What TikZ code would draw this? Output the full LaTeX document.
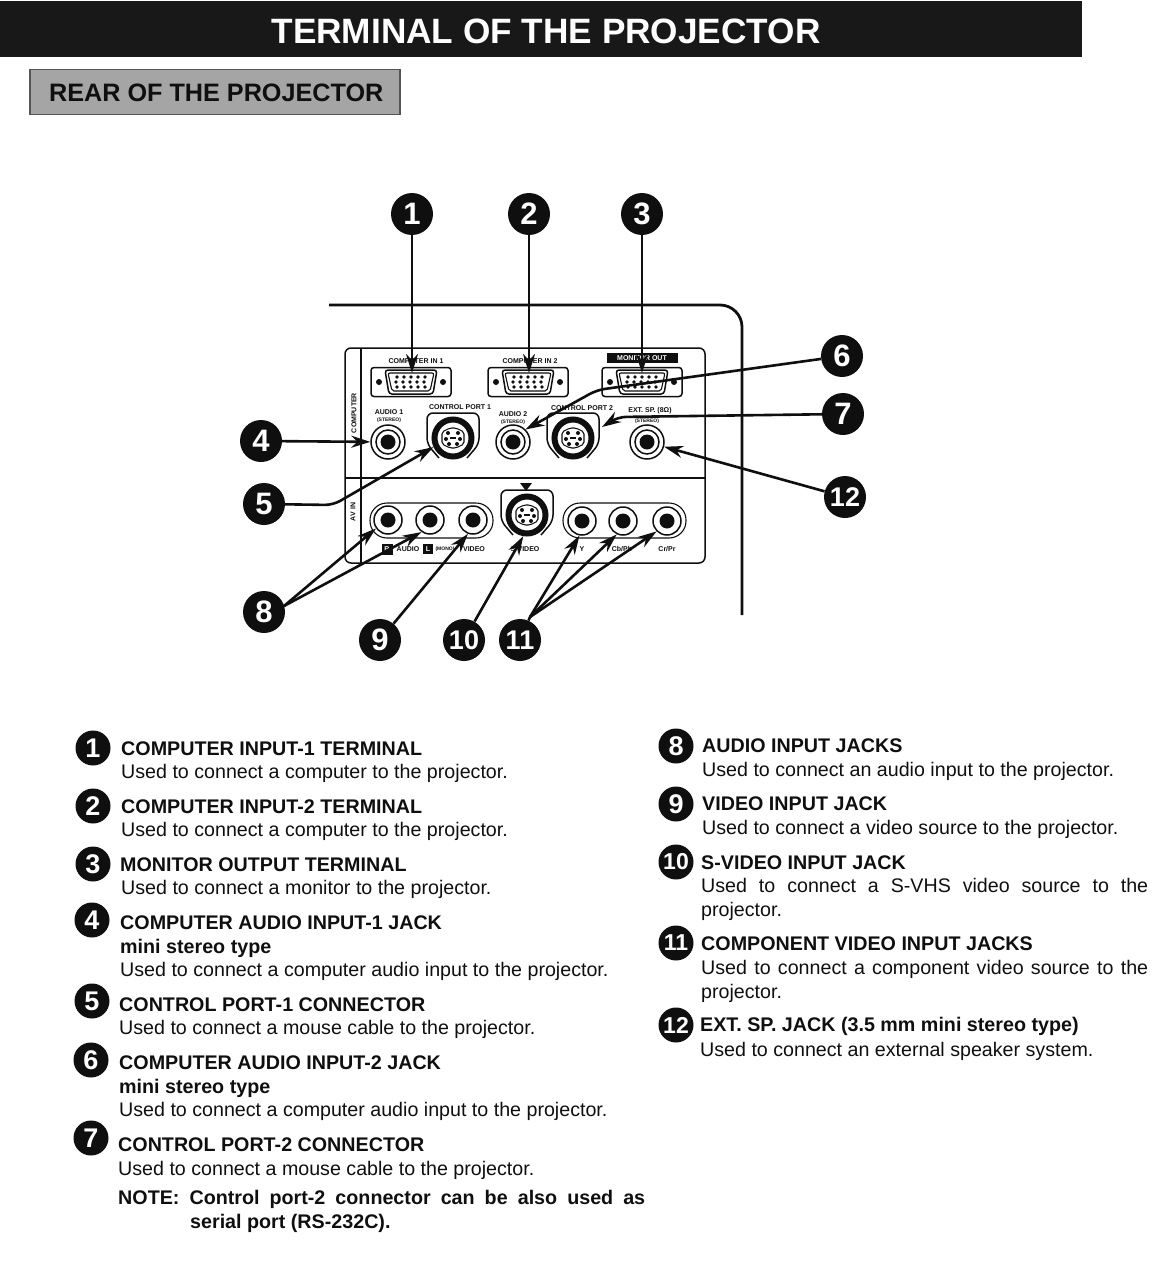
\documentclass[tikz,border=0pt]{standalone}
\usepackage{xcolor}
\usepackage{fontspec}
\setmainfont{Liberation Sans}
\usetikzlibrary{positioning,arrows.meta,calc}
\definecolor{barblack}{RGB}{24,24,24}
\definecolor{sectiongray}{RGB}{165,165,165}
\definecolor{sectionedge}{RGB}{85,85,85}
\definecolor{inkblack}{RGB}{15,15,15}
\tikzset{
    titlebar/.style={draw=none, fill=barblack, minimum width=1082pt, minimum height=56pt, inner sep=0pt},
    sectionbox/.style={draw=sectionedge, fill=sectiongray, line width=1.2pt, minimum width=370pt, minimum height=45pt, inner sep=0pt},
    badge/.style={circle, fill=inkblack, text=white, minimum size=42pt, inner sep=0pt, font=\fontsize{31}{31}\bfseries\selectfont},
    wideb/.style={badge, font=\fontsize{27}{27}\bfseries\selectfont},
    tag/.style={circle, fill=inkblack, text=white, minimum size=35pt, inner sep=0pt, font=\fontsize{27}{27}\bfseries\selectfont},
    widet/.style={tag, font=\fontsize{23}{23}\bfseries\selectfont},
    head/.style={anchor=base west, inner sep=0pt, text=inkblack, font=\fontsize{19.7}{24}\bfseries\selectfont},
    body/.style={anchor=base west, inner sep=0pt, text=inkblack, font=\fontsize{19.65}{24}\selectfont},
    tiny/.style={inner sep=0pt, text=inkblack, font=\fontsize{7}{7}\bfseries\selectfont},
    micro/.style={inner sep=0pt, text=inkblack, font=\fontsize{5}{5}\bfseries\selectfont},
    arrow/.style={-{Stealth[length=19pt,width=12pt]}, line width=2.6pt, draw=inkblack},
    stem/.style={line width=2.6pt, draw=inkblack},
    wall/.style={draw=inkblack, line width=2.8pt},
    panelline/.style={draw=inkblack, line width=1.5pt},
    thinline/.style={draw=inkblack, line width=1.1pt},
    jackring/.style={circle, draw=inkblack, fill=white, line width=1.5pt, inner sep=0pt},
    jackhole/.style={circle, fill=inkblack, minimum size=15pt, inner sep=0pt},
    flange/.style={draw=inkblack, fill=white, line width=1.5pt, rounded corners=3pt, minimum width=80pt, minimum height=29pt, inner sep=0pt},
    portring/.style={circle, draw=inkblack, fill=white, line width=6pt, minimum size=37pt, inner sep=0pt}
}
\newcommand{\jack}[4]{% name, x, y, diameter
    \node[jackring, minimum size=#4pt] (#1) at (#2,#3) {};
    \node[jackring, minimum size=#4pt-10pt] at (#2,#3) {};
    \node[jackhole] at (#2,#3) {};
}
\newcommand{\avjack}[3]{% name, x, y
    \node[jackring, minimum size=28pt] (#1) at (#2,#3) {};
    \node[jackhole] at (#2,#3) {};
}
\newcommand{\dsub}[3]{% name, x, y
    \node[flange] (#1) at (#2,#3) {};
    \begin{scope}[shift={(#2,#3)}]
    \fill[inkblack] (-32,0) circle (3pt) (32,0) circle (3pt);
    \draw[panelline, rounded corners=3pt] (-26,-12) -- (26,-12) -- (22,12) -- (-22,12) -- cycle;
    \draw[thinline, rounded corners=2pt] (-23,-9) -- (23,-9) -- (19,9) -- (-19,9) -- cycle;
    \foreach \px in {-14,-7,0,7,14} {
        \fill[inkblack] (\px,-5) circle (1.8pt) (\px-1,0) circle (1.8pt) (\px,5) circle (1.8pt);
    }
    \end{scope}
}
\newcommand{\miniport}[3]{% name, x, y
    \begin{scope}[shift={(#2,#3)}]
    \draw[panelline, rounded corners=6pt] (-14,20) -- (-26,6) -- (-26,-25) -- (26,-25) -- (26,6) -- (14,20);
    \end{scope}
    \node[portring] (#1) at (#2,#3) {};
    \begin{scope}[shift={(#2,#3)}]
    \draw[thinline, rounded corners=2pt] (-11,-6) -- (-3,-10) -- (3,-10) -- (11,-6) -- (11,6) -- (3,10) -- (-3,10) -- (-11,6) -- cycle;
    \fill[inkblack] (-5,-5) circle (2pt) (5,-5) circle (2pt) (-7,1) circle (2pt) (7,1) circle (2pt) (-4,6) circle (2pt) (4,6) circle (2pt);
    \fill[inkblack] (-3,-1) rectangle (3,1);
    \end{scope}
}
\begin{document}
\begin{tikzpicture}[x=1pt,y=-1pt]
\useasboundingbox (0,0) rectangle (1169,1276);
\node[titlebar] (title) at (541,29) {};
\node[text=white, inner sep=0pt, font=\fontsize{35.2}{35.2}\bfseries\selectfont] (titletext) at (546,31) {TERMINAL OF THE PROJECTOR};
\node[sectionbox] (section) at (215,92) {};
\node[anchor=base west, inner sep=0pt, text=inkblack, font=\fontsize{25.2}{27}\bfseries\selectfont] (sectiontext) at (49,102) {REAR OF THE PROJECTOR};
% projector outline and panel
\draw[wall, rounded corners=22pt] (329,305) -- (742,305) -- (742,615);
\draw[panelline, rounded corners=6pt] (345,348) -- (705,348) -- (705,563) -- (345,563) -- cycle;
\draw[panelline] (361,348) -- (361,563);
\draw[panelline] (345,478) -- (705,478);
\node[tiny, rotate=90] (compside) at (354,413) {COMPUTER};
\node[tiny, rotate=90] (avside) at (353,512) {AV IN};
% upper row
\dsub{dsuba}{411}{382}
\dsub{dsubb}{528}{382}
\dsub{dsubc}{642}{382}
\node[tiny] (dlabela) at (416,361) {COMPUTER IN 1};
\node[tiny] (dlabelb) at (530,361) {COMPUTER IN 2};
\node[fill=inkblack, text=white, inner sep=0pt, minimum width=71pt, minimum height=10pt, font=\fontsize{7}{7}\bfseries\selectfont] (dlabelc) at (642,358) {MONITOR OUT};
\jack{audioa}{388}{442}{34}
\jack{audiob}{513}{442}{34}
\jack{extsp}{647}{442}{34}
\miniport{porta}{453}{438}
\miniport{portb}{573}{438}
\node[tiny] (audioatext) at (389,412) {AUDIO 1};
\node[micro] (audioastereo) at (389,420) {(STEREO)};
\node[tiny] (audiobtext) at (513,414) {AUDIO 2};
\node[micro] (audiobstereo) at (513,422) {(STEREO)};
\node[tiny] (portatext) at (460,407) {CONTROL PORT 1};
\node[tiny] (portbtext) at (582,408) {CONTROL PORT 2};
\node[tiny] (extsptext) at (650,411) {EXT. SP. (8Ω)};
\node[micro] (extspstereo) at (647,421) {(STEREO)};
% lower row
\draw[thinline, rounded corners=17pt] (370,503) rectangle (493,538);
\draw[thinline, rounded corners=17pt] (563,503) rectangle (686,538);
\avjack{avina}{388}{520}
\avjack{avinb}{430}{520}
\avjack{avinc}{473}{520}
\avjack{comy}{582}{521}
\avjack{comb}{623}{521}
\avjack{comr}{667}{521}
\miniport{svideo}{527}{515}
\fill[inkblack] (520,483) -- (532,483) -- (526,491) -- cycle;
\node[fill=inkblack, text=white, inner sep=0pt, minimum size=11pt, font=\fontsize{7}{7}\bfseries\selectfont] (rbox) at (387,549) {R};
\node[fill=inkblack, text=white, inner sep=0pt, minimum size=10pt, font=\fontsize{7}{7}\bfseries\selectfont] (lbox) at (428,549) {L};
\node[tiny] (audiotext) at (408,549) {AUDIO};
\node[micro] (monotext) at (445,549) {(MONO)};
\node[tiny] (videotext) at (474,549) {VIDEO};
\node[tiny] (svideotext) at (525,549) {S-VIDEO};
\node[tiny] (ytext) at (582,549) {Y};
\node[tiny] (cbtext) at (622,549) {Cb/Pb};
\node[tiny] (crtext) at (667,549) {Cr/Pr};
% callouts
\node[badge] (ba) at (412,214) {1};
\node[badge] (bb) at (529,214) {2};
\node[badge] (bc) at (642,214) {3};
\node[badge] (bd) at (261,441) {4};
\node[badge] (be) at (264,504) {5};
\node[badge] (bf) at (842,356) {6};
\node[badge] (bg) at (843,414) {7};
\node[badge] (bh) at (264,612) {8};
\node[badge] (bi) at (380,640) {9};
\node[wideb] (bj) at (464,640) {10};
\node[wideb] (bk) at (520,640) {11};
\node[wideb] (bl) at (845,497) {12};
\coordinate (bende) at (333,505);
\coordinate (bendf) at (597,390);
\coordinate (bendg) at (618,417);
\coordinate (tipg) at (602,427);
\coordinate (fanh) at (284,606);
\coordinate (fank) at (530,617);
\draw[arrow, shorten >=-6pt] (ba) -- (412,367);
\draw[arrow, shorten >=-6pt] (bb) -- (529,367);
\draw[arrow, shorten >=-6pt] (bc) -- (642,367);
\draw[arrow] (bd) -- (audioa);
\draw[arrow, rounded corners=8pt] (be) -- (bende) -- (porta.205);
\draw[arrow, rounded corners=8pt] (bf) -- (bendf) -- (audiob.45);
\draw[arrow, rounded corners=8pt] (bg) -- (bendg) -- (tipg);
\draw[arrow] (bl) -- (extsp);
\draw[arrow] (fanh) -- (avina.215);
\draw[arrow] (fanh) -- (avinb.235);
\draw[stem] (bh) -- (fanh);
\draw[arrow] (bi) -- (avinc.250);
\draw[arrow] (bj) -- (svideo.260);
\draw[arrow] (fank) -- (comy.260);
\draw[arrow] (fank) -- (comb.245);
\draw[arrow] (fank) -- (comr.225);
\draw[stem] (bk) -- (fank);
% left list
\node[tag] (ta) at (93,748) {1};
\node[head] (hea) at (121,755) {COMPUTER INPUT-1 TERMINAL};
\node[body] (boa) at (121,778) {Used to connect a computer to the projector.};
\node[tag] (tb) at (93,806) {2};
\node[head] (heb) at (121,813) {COMPUTER INPUT-2 TERMINAL};
\node[body] (bob) at (121,836) {Used to connect a computer to the projector.};
\node[tag] (tc) at (93,864) {3};
\node[head] (hec) at (120,871) {MONITOR OUTPUT TERMINAL};
\node[body] (boc) at (121,894) {Used to connect a monitor to the projector.};
\node[tag] (td) at (92,920) {4};
\node[head] (hed) at (120,929) {COMPUTER AUDIO INPUT-1 JACK};
\node[head] (sud) at (120,953) {mini stereo type};
\node[body] (bod) at (120,976) {Used to connect a computer audio input to the projector.};
\node[tag] (te) at (92,1001) {5};
\node[head] (hee) at (119,1011) {CONTROL PORT-1 CONNECTOR};
\node[body] (boe) at (119,1034) {Used to connect a mouse cable to the projector.};
\node[tag] (tf) at (91,1060) {6};
\node[head] (hef) at (119,1069) {COMPUTER AUDIO INPUT-2 JACK};
\node[head] (suf) at (119,1093) {mini stereo type};
\node[body] (bof) at (119,1116) {Used to connect a computer audio input to the projector.};
\node[tag] (tg) at (91,1138) {7};
\node[head] (heg) at (118,1151) {CONTROL PORT-2 CONNECTOR};
\node[body] (bog) at (118,1175) {Used to connect a mouse cable to the projector.};
\node[head] (notea) at (118,1204) {\makebox[527pt][s]{NOTE: Control port-2 connector can be also used as}};
\node[head] (noteb) at (190,1228) {serial port (RS-232C).};
% right list
\node[tag] (th) at (676,746) {8};
\node[head] (heh) at (702,752) {AUDIO INPUT JACKS};
\node[body] (boh) at (702,776) {Used to connect an audio input to the projector.};
\node[tag] (ti) at (676,804) {9};
\node[head] (hei) at (702,810) {VIDEO INPUT JACK};
\node[body] (boi) at (702,834) {Used to connect a video source to the projector.};
\node[widet] (tj) at (676,862) {10};
\node[head] (hej) at (701,869) {S-VIDEO INPUT JACK};
\node[body] (boj) at (701,892) {\makebox[447pt][s]{Used to connect a S-VHS video source to the}};
\node[body] (coj) at (701,916) {projector.};
\node[widet] (tk) at (676,943) {11};
\node[head] (hek) at (701,950) {COMPONENT VIDEO INPUT JACKS};
\node[body] (bok) at (701,974) {\makebox[447pt][s]{Used to connect a component video source to the}};
\node[body] (cok) at (701,998) {projector.};
\node[widet] (tl) at (676,1025) {12};
\node[head] (hel) at (700,1031) {EXT. SP. JACK (3.5 mm mini stereo type)};
\node[body] (bol) at (700,1056) {Used to connect an external speaker system.};
\end{tikzpicture}
\end{document}
